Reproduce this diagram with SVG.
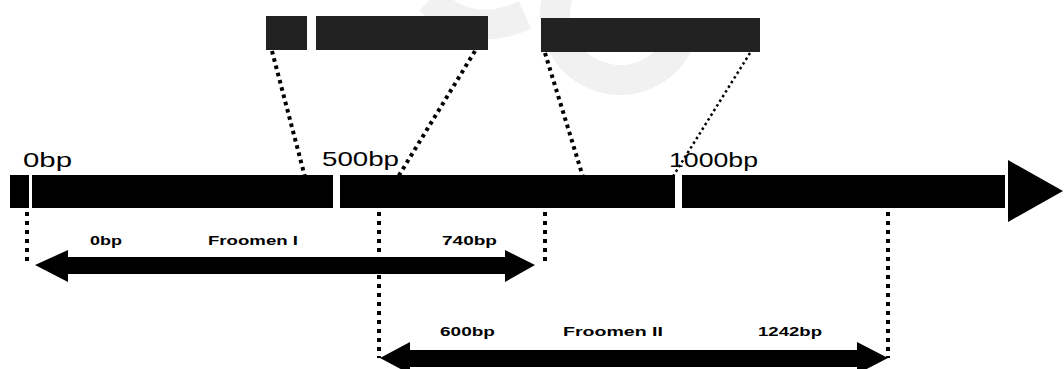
<svg xmlns="http://www.w3.org/2000/svg" width="1064" height="369" viewBox="0 0 1064 369">
  <style>
    .bar { fill: #000; }
    .top { fill: #222; }
    .pos { font-family: "Liberation Sans", Arial, sans-serif; font-size: 21px; fill: #000; }
    .lbl { font-family: "Liberation Sans", Arial, sans-serif; font-size: 13px; font-weight: bold; fill: #000; }
    .dotv { stroke: #000; stroke-width: 4; stroke-dasharray: 4 5; fill: none; }
    .dots { stroke: #000; stroke-width: 4; stroke-dasharray: 3.5 4; stroke-linecap: butt; fill: none; }
    .dotthin { stroke: #000; stroke-width: 2.5; stroke-dasharray: 2.5 3; fill: none; }
  </style>
  <rect width="1064" height="369" fill="#fff"/>
  <g id="watermark" fill="none" stroke="#f1f1f1" stroke-width="30">
    <path d="M 430 0 Q 470 40 525 15"/>
    <path d="M 560 -10 A 60 60 0 0 0 680 40"/>
  </g>
  <g id="axis">
    <rect class="bar" x="10" y="175" width="19" height="33"/>
    <rect class="bar" x="32" y="175" width="301" height="33"/>
    <rect class="bar" x="340" y="175" width="335" height="33"/>
    <rect class="bar" x="682" y="175" width="323" height="33"/>
    <polygon class="bar" points="1008,160 1063,191 1008,222"/>
    <text class="pos" x="23" y="167" textLength="49" lengthAdjust="spacingAndGlyphs">0bp</text>
    <text class="pos" x="322" y="166" textLength="77" lengthAdjust="spacingAndGlyphs">500bp</text>
    <text class="pos" x="669" y="167" textLength="89" lengthAdjust="spacingAndGlyphs">1000bp</text>
  </g>
  <g id="zoom-left">
    <rect class="top" x="266" y="16" width="41" height="34"/>
    <rect class="top" x="316" y="16" width="172" height="34"/>
  </g>
  <g id="zoom-right">
    <rect class="top" x="541" y="18" width="219" height="34"/>
  </g>
  <g id="fragment-1">
    <polygon class="bar" points="35,265 68,250 68,257 505,257 505,250 535,265 505,282 505,274 68,274 68,282"/>
    <text class="lbl" x="90" y="245" textLength="32" lengthAdjust="spacingAndGlyphs">0bp</text>
    <text class="lbl" x="208" y="245" textLength="90" lengthAdjust="spacingAndGlyphs">Froomen I</text>
    <text class="lbl" x="442" y="245" textLength="55" lengthAdjust="spacingAndGlyphs">740bp</text>
  </g>
  <g id="fragment-2">
    <polygon class="bar" points="380,358 410,342 410,350 857,350 857,342 888,358 857,374 857,367 410,367 410,374"/>
    <text class="lbl" x="440" y="336" textLength="55" lengthAdjust="spacingAndGlyphs">600bp</text>
    <text class="lbl" x="563" y="336" textLength="100" lengthAdjust="spacingAndGlyphs">Froomen II</text>
    <text class="lbl" x="758" y="336" textLength="64" lengthAdjust="spacingAndGlyphs">1242bp</text>
  </g>
  <g id="connectors">
    <line class="dots" x1="272" y1="51" x2="305" y2="177"/>
    <line class="dots" x1="475" y1="51" x2="398" y2="177"/>
    <line class="dots" x1="545" y1="53" x2="583" y2="177"/>
    <line class="dotthin" x1="750" y1="53" x2="672" y2="178"/>
    <line class="dotv" x1="27" y1="212" x2="27" y2="262"/>
    <line class="dotv" x1="545" y1="212" x2="545" y2="262"/>
    <line class="dotv" x1="379" y1="212" x2="379" y2="358"/>
    <line class="dotv" x1="888" y1="212" x2="888" y2="358"/>
  </g>
</svg>
